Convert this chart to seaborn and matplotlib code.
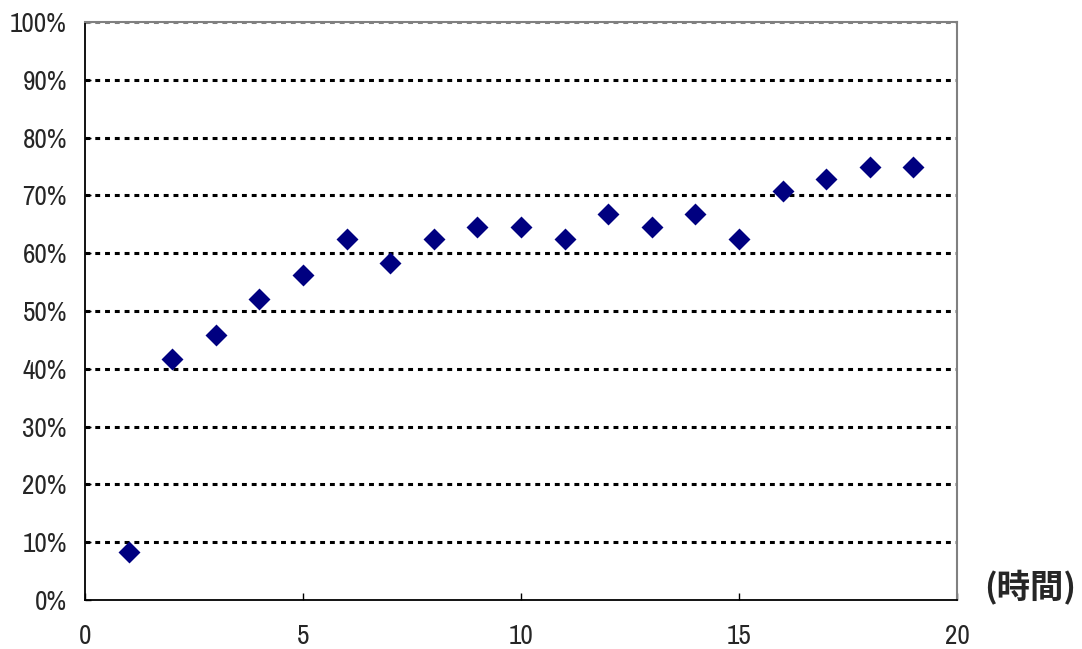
import matplotlib
matplotlib.use("Agg")
import matplotlib.pyplot as plt
import seaborn as sns
import pandas as pd
from matplotlib.ticker import FuncFormatter
from matplotlib import font_manager

hours = [1, 2, 3, 4, 5, 6, 7, 8, 9, 10, 11, 12, 13, 14, 15, 16, 17, 18, 19]
rate = [0.083, 0.417, 0.458, 0.521, 0.5625, 0.625, 0.583, 0.625, 0.646, 0.646,
        0.625, 0.667, 0.646, 0.667, 0.625, 0.708, 0.729, 0.75, 0.75]
x_ticks = [0, 5, 10, 15, 20]
y_ticks = [i / 10 for i in range(11)]
x_label = "(時間)"

df = pd.DataFrame({"hour": hours, "rate": rate})

sns.set_theme(style="white")

# prefer a narrow face for the numeric tick labels when one is installed
narrow = None
for f in font_manager.fontManager.ttflist:
    if "Narrow" in f.name or "Condensed" in f.name:
        narrow = f.name
        break
num_font = narrow if narrow else "Liberation Sans"
plt.rcParams["font.family"] = [num_font, "Noto Sans CJK JP", "DejaVu Sans"]

fig = plt.figure(figsize=(10.82, 6.49), dpi=100)
ax = fig.add_axes([85 / 1082, 1 - 600 / 649, (957 - 85) / 1082, (600 - 22) / 649])

sns.scatterplot(data=df, x="hour", y="rate", ax=ax, marker="D", s=125,
                color="#000080", edgecolor="#000080", linewidth=0, zorder=5)

ax.set_xlim(0, 20)
ax.set_ylim(0, 1)
ax.set_xticks(x_ticks)
ax.set_yticks(y_ticks)
ax.yaxis.set_major_formatter(FuncFormatter(lambda v, p: f"{v * 100:.0f}%"))

# dotted gridlines at each 10% step
for yv in y_ticks[1:-1]:
    ax.axhline(yv, color="black", linewidth=2.2, linestyle=(0, (1.6, 1.6)), zorder=1)
ax.axhline(1.0, color="#808080", linewidth=2.2, linestyle=(0, (1.6, 1.6)), zorder=2)

for side in ["left", "bottom"]:
    ax.spines[side].set_color("black")
    ax.spines[side].set_linewidth(1.3)
for side in ["top", "right"]:
    ax.spines[side].set_color("#808080")
    ax.spines[side].set_linewidth(1.5)

ax.tick_params(axis="x", direction="in", length=5, width=1, color="black",
               pad=17, labelsize=19.5, bottom=True)
ax.tick_params(axis="y", direction="in", length=4, width=1, color="black",
               pad=13, labelsize=19.5, left=True)
ax.set_xlabel("")
ax.set_ylabel("")

fig.text(1030 / 1082, 1 - 588 / 649, x_label, ha="center", va="center",
         fontsize=24, fontweight="bold", family=["Noto Sans CJK JP", "DejaVu Sans"])

fig.savefig("out.png", dpi=100, facecolor="white")
